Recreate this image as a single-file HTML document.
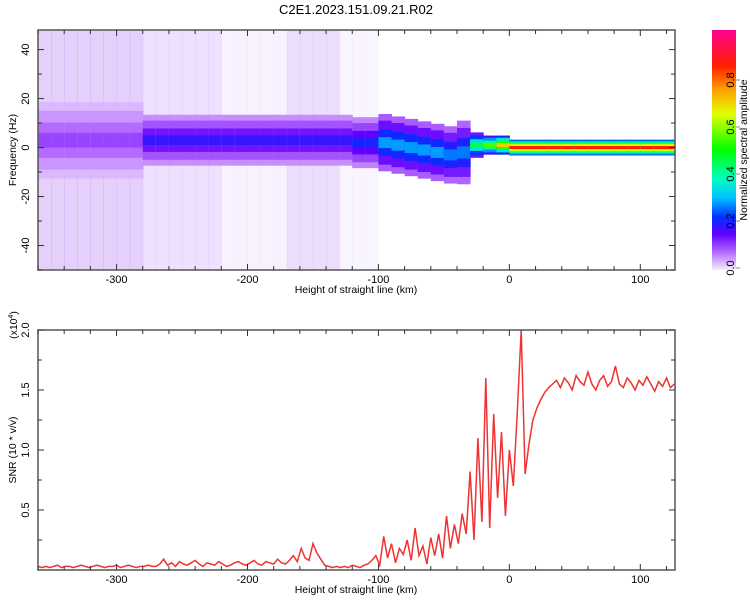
<!DOCTYPE html>
<html><head><meta charset="utf-8"><style>
body{margin:0;background:#fff;}
svg{display:block;font-family:"Liberation Sans","DejaVu Sans",sans-serif;}
</style></head><body>
<svg id="c" width="750" height="600" xmlns="http://www.w3.org/2000/svg">
<defs>
<linearGradient id="cbg" x1="0" y1="1" x2="0" y2="0">
<stop offset="0" stop-color="#f4ecff"/><stop offset="0.08" stop-color="#b060ff"/><stop offset="0.15" stop-color="#6000ff"/><stop offset="0.22" stop-color="#0030ff"/><stop offset="0.3" stop-color="#00c0ff"/><stop offset="0.38" stop-color="#00ffc0"/><stop offset="0.5" stop-color="#00ff00"/><stop offset="0.65" stop-color="#e0ff00"/><stop offset="0.75" stop-color="#ffa000"/><stop offset="0.85" stop-color="#ff2000"/><stop offset="1" stop-color="#ff0090"/>
</linearGradient>
<clipPath id="clipTop"><rect x="38" y="30" width="637" height="240"/></clipPath>
<clipPath id="clipBot"><rect x="38" y="330" width="637" height="240"/></clipPath>
</defs>
<text x="356" y="14" font-size="13" text-anchor="middle">C2E1.2023.151.09.21.R02</text>
<g id="topPanel"></g>
<g id="botPanel"></g>
<g id="cbPanel"></g>
</svg>
<script>
// Spectrogram bins (10 km wide, starting at -360)
const binStart = -360;
const binWidth = 10;
const binBackground = [0.55,0.55,0.55,0.55,0.55,0.55,0.55,0.55, 0.35,0.35,0.35,0.35,0.35,0.35, 0.15,0.15,0.15,0.15,0.15, 0.4,0.4,0.4,0.4, 0.12,0.12,0.12, 0,0,0,0,0,0,0,0,0,0,0,0,0,0,0,0,0,0,0,0,0,0,0];
const binCenter = [3,3,3,3,3,3,3,3, 3,3,3,3,3,3,3,3,3,3,3,3,3,3,3,3,2,2, 2,1,0,-1,-2,-3,-2, 1,1,1, 0,0,0,0,0,0,0,0,0,0,0,0,0];
const binHalfWidth = [12,12,12,12,12,12,12,12, 8,8,8,8,8,8,8,8,8,8,8,8,8,8,8,8,8,8, 9,9,9,9,9,9,10, 4,3,3, 2.5,2.5,2.5,2.5,2.5,2.5,2.5,2.5,2.5,2.5,2.5,2.5,2.5];
const binPeak = [0.1,0.1,0.1,0.1,0.1,0.1,0.1,0.1, 0.18,0.18,0.18,0.18,0.18,0.18,0.18,0.18,0.18,0.18,0.18,0.18,0.18,0.18,0.18,0.18,0.2,0.2, 0.28,0.28,0.28,0.28,0.28,0.26,0.26, 0.45,0.55,0.7, 0.85,0.85,0.85,0.85,0.85,0.85,0.85,0.85,0.85,0.85,0.85,0.85,0.85];
// SNR series (x10^4), 3 km spacing starting at -360
const snrStart = -360;
const snrStep = 3;
const snrValues = [0.03,0.02,0.03,0.02,0.03,0.04,0.02,0.03,0.03,0.02,0.03,0.04,0.03,0.02,0.03,0.04,0.03,0.02,0.03,0.03,0.04,0.02,0.03,0.04,0.03,0.02,0.03,0.03,0.04,0.03,0.03,
0.05,0.09,0.04,0.06,0.03,0.07,0.05,0.04,0.06,0.08,0.05,0.03,0.06,0.05,0.04,0.07,0.05,0.03,0.04,0.06,0.07,0.05,0.04,0.06,0.08,0.05,0.04,0.07,0.06,0.05,0.09,0.06,0.05,
0.08,0.12,0.07,0.18,0.10,0.08,0.22,0.14,0.09,
0.04,0.03,0.02,0.03,0.02,0.03,0.02,0.04,0.03,0.02,0.04,0.05,
0.08,0.12,0.04,0.28,0.10,0.22,0.06,0.18,0.13,0.25,0.08,0.35,0.12,0.20,0.05,0.27,
0.12,0.30,0.10,0.45,0.18,0.38,0.22,0.47,
0.30,0.82,0.25,1.10,0.40,1.60,0.35,1.30,
0.6,1.15,0.45,1.0,0.7,1.3,2.0,0.8,
1.05,1.25,1.35,1.42,1.48,1.52,1.55,
1.58,1.52,1.60,1.56,1.50,1.62,1.57,1.54,1.65,1.55,1.50,1.58,1.62,1.53,1.57,1.70,1.55,1.52,1.60,1.56,1.50,1.58,1.54,1.61,1.55,1.49,1.57,1.53,1.60,1.52,1.55];
const xTicks = [-300,-200,-100,0,100];
const freqTicks = [-40,-20,0,20,40];
const snrTicks = [0.5,1.0,1.5,2.0];
const cbTicks = [0.0,0.2,0.4,0.6,0.8];

const NS='http://www.w3.org/2000/svg';
function mk(tag, attrs, parent){const e=document.createElementNS(NS,tag);for(const k in attrs)e.setAttribute(k,attrs[k]);parent.appendChild(e);return e;}
const X0=38,X1=675,XMIN=-360,XMAX=126.5;
const xs=v=>X0+(v-XMIN)/(XMAX-XMIN)*(X1-X0);
const fy=v=>30+(48-v)/(98)*240;
const sy=v=>570-v*120;
const cby=v=>268-v*235;
const stops=[[0,[244,236,255]],[0.08,[176,96,255]],[0.15,[96,0,255]],[0.22,[0,48,255]],[0.3,[0,192,255]],[0.38,[0,255,192]],[0.5,[0,255,0]],[0.65,[224,255,0]],[0.75,[255,160,0]],[0.85,[255,32,0]],[1,[255,0,144]]];
function cmap(v){for(let i=1;i<stops.length;i++){if(v<=stops[i][0]){const a=stops[i-1],b=stops[i],t=(v-a[0])/(b[0]-a[0]);return 'rgb('+a[1].map((c,j)=>Math.round(c+(b[1][j]-c)*t)).join(',')+')';}}return 'rgb(255,0,144)';}

const topG=document.getElementById('topPanel');
const hm=mk('g',{'clip-path':'url(#clipTop)'},topG);


for(let i=0;i<binBackground.length;i++){
  const a=binStart+i*binWidth, xa=xs(a), w=xs(a+binWidth)-xa;
  if(binBackground[i]>0){
    const r=mk('rect',{x:xa,y:30,width:w+0.5,height:240,fill:'rgb(170,100,245)','fill-opacity':binBackground[i]*0.55},hm);
    
    
  }
  const c=binCenter[i],h=binHalfWidth[i],p=binPeak[i];
  const layers=[[1.3,0.3],[1.0,0.5],[0.6,0.75],[0.25,1.0]];
  layers.forEach(([hf,vf])=>{
    const y1=fy(c+h*hf),y2=fy(c-h*hf);
    const r=mk('rect',{x:xa,y:y1,width:w+0.5,height:y2-y1,fill:cmap(p*vf)},hm);
    
    
  });
}
function frame(g,yTop,yBot){
  mk('rect',{x:X0,y:yTop,width:X1-X0,height:yBot-yTop,fill:'none',stroke:'#555','stroke-width':1.5},g);
  for(let v=-360;v<=120;v+=20){const x=xs(v),L=(v%100===0)?6:4;mk('line',{x1:x,y1:yBot,x2:x,y2:yBot-L,stroke:'#333'},g);mk('line',{x1:x,y1:yTop,x2:x,y2:yTop+L,stroke:'#333'},g);}
}
frame(topG,30,270);
for(let v=-50;v<=48;v+=10){const y=fy(v),L=(v%20===0)?6:4;mk('line',{x1:X0,y1:y,x2:X0+L,y2:y,stroke:'#333'},topG);mk('line',{x1:X1,y1:y,x2:X1-L,y2:y,stroke:'#333'},topG);}
freqTicks.forEach(v=>{const t=mk('text',{x:0,y:0,'font-size':11,'text-anchor':'middle',transform:`translate(29,${fy(v)}) rotate(-90)`},topG);t.textContent=v;});
xTicks.forEach(v=>{[283,583].forEach(yy=>{const t=mk('text',{x:xs(v),y:yy,'font-size':11,'text-anchor':'middle'},topG);t.textContent=v;});});
let t=mk('text',{x:356,y:293,'font-size':10.5,'text-anchor':'middle'},topG);t.textContent='Height of straight line (km)';
t=mk('text',{x:0,y:0,'font-size':10.5,'text-anchor':'middle',transform:'translate(16,150) rotate(-90)'},topG);t.textContent='Frequency (Hz)';

const botG=document.getElementById('botPanel');
const lg=mk('g',{'clip-path':'url(#clipBot)'},botG);
let d='';snrValues.forEach((v,i)=>{d+=(i?'L':'M')+xs(snrStart+i*snrStep).toFixed(1)+','+sy(v).toFixed(1);});
const p=mk('path',{d:d,fill:'none',stroke:'#ee3333','stroke-width':1.5},lg);


frame(botG,330,570);
for(let v=0.25;v<=2.0;v+=0.25){const y=sy(v),L=(Math.abs(v*2-Math.round(v*2))<1e-6)?6:4;mk('line',{x1:X0,y1:y,x2:X0+L,y2:y,stroke:'#333'},botG);mk('line',{x1:X1,y1:y,x2:X1-L,y2:y,stroke:'#333'},botG);}
snrTicks.forEach(v=>{const t=mk('text',{x:0,y:0,'font-size':11,'text-anchor':'middle',transform:`translate(29,${sy(v)}) rotate(-90)`},botG);t.textContent=v.toFixed(1);});
t=mk('text',{x:356,y:593,'font-size':10.5,'text-anchor':'middle'},botG);t.textContent='Height of straight line (km)';
t=mk('text',{x:0,y:0,'font-size':10.5,'text-anchor':'middle',transform:'translate(16,450) rotate(-90)'},botG);t.textContent='SNR (10 * v/v)';
t=mk('text',{x:0,y:0,'font-size':10.5,'text-anchor':'middle',transform:'translate(17,325) rotate(-90)'},botG);t.innerHTML='(x10<tspan dy="-4" font-size="7">4</tspan><tspan dy="4">)</tspan>';

const cbG=document.getElementById('cbPanel');
mk('rect',{x:712,y:30,width:24,height:240,fill:'url(#cbg)'},cbG);
cbTicks.forEach(v=>{mk('line',{x1:736,y1:cby(v),x2:740,y2:cby(v),stroke:'#888'},cbG);const t=mk('text',{x:0,y:0,'font-size':11,'text-anchor':'middle',transform:`translate(734,${cby(v)}) rotate(-90)`},cbG);t.textContent=v.toFixed(1);});
t=mk('text',{x:0,y:0,'font-size':10.5,'text-anchor':'middle',transform:'translate(747,150) rotate(-90)'},cbG);t.textContent='Normalized spectral amplitude';
</script>
</body></html>
